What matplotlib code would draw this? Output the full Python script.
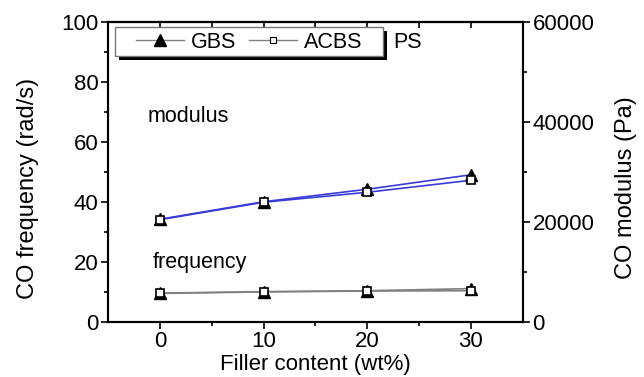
import matplotlib
matplotlib.use("Agg")
import matplotlib.pyplot as plt
from matplotlib.ticker import MultipleLocator, FixedLocator
from matplotlib.lines import Line2D
from matplotlib.patches import Rectangle

plt.rcParams['font.family'] = ['Liberation Sans', 'DejaVu Sans']

filler = [0, 10, 20, 30]
gbs_freq = [9.5, 10.0, 10.3, 11.0]
acbs_freq = [9.4, 9.9, 10.2, 10.3]
gbs_mod = [20500, 24000, 26500, 29400]
acbs_mod = [20400, 23900, 25900, 28300]

fig = plt.figure(figsize=(6.44, 3.77), dpi=100)
ax = fig.add_axes([0.1677, 0.147, 0.644, 0.7946])
ax2 = ax.twinx()

gray = '#808080'
blue = '#3a3ad8'
ms_t = 9
ms_s = 6

# frequency on left axis
ax.plot(filler, gbs_freq, color=gray, lw=1.2, marker='^', ms=ms_t, mfc='black', mec='black', zorder=3)
ax.plot(filler, acbs_freq, color=gray, lw=1.2, marker='s', ms=ms_s, mfc='white', mec='black', mew=1.2, zorder=4)

# modulus on right axis
ax2.plot(filler, gbs_mod, color=blue, lw=1.2, marker='^', ms=ms_t, mfc='black', mec='black', zorder=3)
ax2.plot(filler, acbs_mod, color=blue, lw=1.2, marker='s', ms=ms_s, mfc='white', mec='black', mew=1.2, zorder=4)

ax.set_xlim(-5, 35)
ax.set_ylim(0, 100)
ax2.set_ylim(0, 60000)

ax.xaxis.set_major_locator(FixedLocator([0, 10, 20, 30]))
ax.xaxis.set_minor_locator(FixedLocator([5, 15, 25]))
ax.yaxis.set_major_locator(MultipleLocator(20))
ax.yaxis.set_minor_locator(MultipleLocator(10))
ax2.yaxis.set_major_locator(MultipleLocator(20000))
ax2.yaxis.set_minor_locator(MultipleLocator(10000))

fs = 16
ax.tick_params(axis='both', which='major', direction='out', length=5, width=1.2, labelsize=fs, pad=2)
ax.tick_params(axis='both', which='minor', direction='out', length=3, width=1.2)
ax2.tick_params(axis='y', which='major', direction='out', length=5, width=1.2, labelsize=fs, pad=2)
ax2.tick_params(axis='y', which='minor', direction='out', length=3, width=1.2)

for a in (ax, ax2):
    for s in a.spines.values():
        s.set_linewidth(1.5)

# top ticks inward
axt = ax.secondary_xaxis('top')
axt.set_xticks([0, 5, 10, 15, 20, 25, 30])
axt.tick_params(direction='in', length=4, width=1.2, labeltop=False)
axt.spines['top'].set_linewidth(1.5)

ax.set_xlabel('Filler content (wt%)', fontsize=fs, labelpad=1)
ax.set_ylabel('CO frequency (rad/s)', fontsize=17, labelpad=16)
ax2.set_ylabel('CO modulus (Pa)', fontsize=17, labelpad=15)
ax.yaxis.label.set_y(0.446)
ax2.yaxis.label.set_y(0.446)

ax.text(-1.15, 66.5, 'modulus', fontsize=15.5)
ax.text(-0.7, 18, 'frequency', fontsize=15.5)

# legend box with shadow
ax.add_patch(Rectangle((0.0169 + 0.0096, 0.8865 - 0.0134), 0.6458, 0.0965, transform=ax.transAxes,
                       facecolor='black', edgecolor='none', zorder=5, clip_on=False))
ax.add_patch(Rectangle((0.0169, 0.8865), 0.6458, 0.0965, transform=ax.transAxes,
                       facecolor='white', edgecolor='#777777', lw=1.0, zorder=6, clip_on=False))

handles = [
    Line2D([], [], color=gray, lw=1, marker='^', ms=ms_t, mfc='black', mec='black'),
    Line2D([], [], color=gray, lw=1, marker='s', ms=5, mfc='white', mec='black', mew=0.8),
]
leg = ax.legend(handles, ['GBS', 'ACBS'], loc='center left', bbox_to_anchor=(0.068, 0.932),
                ncol=2, fontsize=15.5, frameon=False, handlelength=2.2, columnspacing=0.6,
                handletextpad=0.35, borderpad=0.0, borderaxespad=0.0)
leg.set_zorder(7)
ax.text(0.687, 0.93, 'PS', transform=ax.transAxes, fontsize=15.5, va='center')

fig.savefig('out.png', dpi=100)
